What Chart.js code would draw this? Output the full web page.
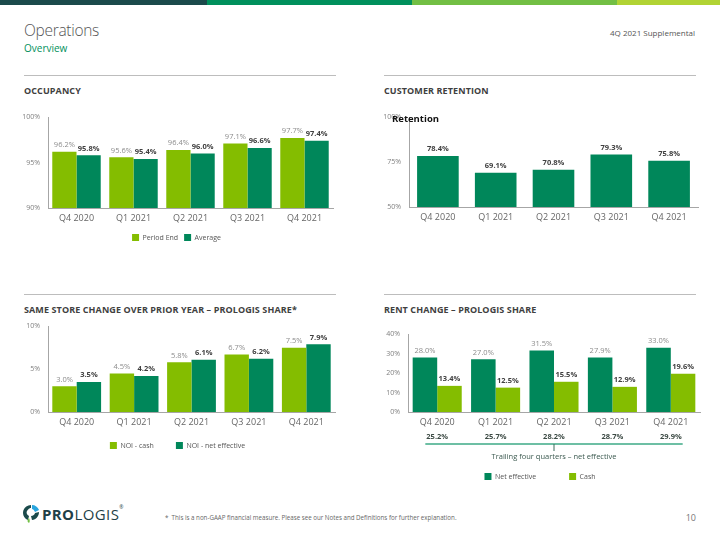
<!DOCTYPE html>
<html>
<head>
<meta charset="utf-8">
<script src="https://cdn.jsdelivr.net/npm/chart.js@4.4.1/dist/chart.umd.min.js"></script>
<style>
  body { margin: 0; width: 720px; height: 540px; background: #fff; position: relative; overflow: hidden; font-family: "Open Sans", sans-serif; }
  .bar { position: absolute; top: 0; height: 5px; }
  .abs { position: absolute; white-space: nowrap; }
  .rule { position: absolute; height: 1px; background: #bdbdbd; }
  .sec { position: absolute; font-size: 9px; font-weight: 700; color: #404040; letter-spacing: 0.1px; }
  canvas { position: absolute; }
</style>
</head>
<body>
<div class="bar" style="left:0;width:207px;background:#1b4a4b"></div>
<div class="bar" style="left:207px;width:205px;background:#00905c"></div>
<div class="bar" style="left:412px;width:205px;background:#72bf44"></div>
<div class="bar" style="left:617px;width:103px;background:#b1d334"></div>

<div class="abs" style="left:24px;top:19px;font-size:15.5px;font-weight:300;color:#555;letter-spacing:-0.3px">Operations</div>
<div class="abs" style="left:24px;top:41px;font-size:10px;color:#00905c">Overview</div>
<div class="abs" style="right:25px;top:27px;font-size:8px;color:#555">4Q 2021 Supplemental</div>

<div class="rule" style="left:24px;top:75px;width:312px"></div>
<div class="rule" style="left:384px;top:75px;width:312px"></div>
<div class="rule" style="left:24px;top:294px;width:312px"></div>
<div class="rule" style="left:384px;top:294px;width:312px"></div>

<div class="sec" style="left:24px;top:84px">OCCUPANCY</div>
<div class="sec" style="left:384px;top:84px">CUSTOMER RETENTION</div>
<div class="sec" style="left:24px;top:303px">SAME STORE CHANGE OVER PRIOR YEAR – PROLOGIS SHARE*</div>
<div class="sec" style="left:384px;top:303px">RENT CHANGE – PROLOGIS SHARE</div>

<canvas id="occ" width="320" height="146" style="left:20px;top:105px"></canvas>
<canvas id="ret" width="320" height="121" style="left:381px;top:105px"></canvas>
<canvas id="ss" width="320" height="145" style="left:20px;top:314px"></canvas>
<canvas id="rent" width="325" height="170" style="left:380px;top:320px"></canvas>

<div class="abs" style="left:392px;top:112px;font-size:9.5px;font-weight:700;color:#111">Retention</div>

<svg class="abs" style="left:22px;top:504px" width="18" height="20" viewBox="0 0 18 20">
  <path d="M9 1 C4 1 1 5 1 9 C1 12 3 15 6 16 L7 12 C5 11 4 9 5 7 C6 5 8 4 9 4 Z" fill="#1b4a4b"/>
  <path d="M10 1 C13 1 16 3 17 6 L13 8 C12 6 11 5 10 5 Z" fill="#2aa6df"/>
  <path d="M17 8 C17 12 14 16 10 16 L9 12 C11 12 13 10 13 9 Z" fill="#1b4a4b"/>
  <path d="M7 14 C8 16 8 18 7 19 C5 18 5 16 7 14 Z" fill="#72bf44"/>
</svg>
<div class="abs" style="left:42px;top:504px;font-size:15px;color:#1f3f47;letter-spacing:0.4px"><b>PRO</b>LOGIS<span style="font-size:5px;vertical-align:top">®</span></div>
<div class="abs" style="left:165px;top:513px;font-size:6.2px;color:#666">*&nbsp; This is a non-GAAP financial measure. Please see our Notes and Definitions for further explanation.</div>
<div class="abs" style="right:24px;top:511px;font-size:9px;color:#777">10</div>

<script>
const categories = ['Q4 2020', 'Q1 2021', 'Q2 2021', 'Q3 2021', 'Q4 2021']

const occPeriodEnd = [96.2, 95.6, 96.4, 97.1, 97.7]
const occAverage = [95.8, 95.4, 96.0, 96.6, 97.4]

const retention = [78.4, 69.1, 70.8, 79.3, 75.8]

const noiCash = [3.0, 4.5, 5.8, 6.7, 7.5]
const noiNetEffective = [3.5, 4.2, 6.1, 6.2, 7.9]

const rentNetEffective = [28.0, 27.0, 31.5, 27.9, 33.0]
const rentCash = [13.4, 12.5, 15.5, 12.9, 19.6]
const trailingNetEffective = [25.2, 25.7, 28.2, 28.7, 29.9]

const LIGHT = '#84bd00'
const DARK = '#00875a'
const FONT = '"Open Sans", sans-serif'

Chart.defaults.font.family = FONT
Chart.defaults.animation = false

// value above each bar
const valueLabels = {
    id: 'valueLabels',
    afterDatasetsDraw(chart) {
        const ctx = chart.ctx
        chart.data.datasets.forEach((ds, i) => {
            const meta = chart.getDatasetMeta(i)
            ctx.save()
            ctx.font = (ds.labelBold ? 'bold ' : '') + '7.5px ' + FONT
            ctx.fillStyle = ds.labelBold ? '#404040' : '#8c8c8c'
            ctx.textAlign = 'center'
            ctx.textBaseline = 'bottom'
            meta.data.forEach((bar, j) => {
                ctx.fillText(ds.data[j].toFixed(1) + '%', bar.x, bar.y - 3)
            })
            ctx.restore()
        })
    }
}

// trailing four quarters row under the rent change chart
const trailingRow = {
    id: 'trailingRow',
    afterDraw(chart) {
        const ctx = chart.ctx
        const x = chart.scales.x
        const y0 = chart.chartArea.bottom + 25
        ctx.save()
        ctx.font = 'bold 7.5px ' + FONT
        ctx.fillStyle = '#3c4a44'
        ctx.textAlign = 'center'
        ctx.textBaseline = 'middle'
        let left, right
        trailingNetEffective.forEach((v, i) => {
            const t = v.toFixed(1) + '%'
            const px = x.getPixelForValue(i)
            const w = ctx.measureText(t).width
            ctx.fillText(t, px, y0)
            if (i == 0) left = px - w / 2 - 1
            if (i == trailingNetEffective.length - 1) right = px + w / 2 + 1
        })
        const lineY = y0 + 7
        ctx.strokeStyle = '#6dbfa4'
        ctx.lineWidth = 2
        ctx.beginPath()
        ctx.moveTo(left, lineY)
        ctx.lineTo(right, lineY)
        ctx.stroke()
        const mid = x.getPixelForValue(2)
        ctx.lineWidth = 1
        ctx.strokeStyle = '#3c6a5a'
        ctx.beginPath()
        ctx.moveTo(mid, lineY)
        ctx.lineTo(mid, lineY + 7)
        ctx.stroke()
        ctx.font = '7.5px ' + FONT
        ctx.fillStyle = '#3c5a50'
        ctx.fillText('Trailing four quarters – net effective', mid, lineY + 13)
        ctx.restore()
    }
}

function makeScales(min, max, step, xHeight) {
    return {
        x: {
            grid: { display: false, drawTicks: false },
            border: { color: '#a6a6a6' },
            ticks: { color: '#666', font: { size: 9 }, padding: 5 },
            afterFit: s => { s.height = xHeight }
        },
        y: {
            min, max,
            grid: { display: false, drawTicks: false },
            border: { color: '#a6a6a6' },
            ticks: { stepSize: step, color: '#808080', font: { size: 7 }, padding: 8, callback: v => v + '%' },
            afterFit: s => { s.width = 28 }
        }
    }
}

// extraGap: spaces added after the first item so items sit further apart
function makeLegend(gap, display = true, extraGap = '') {
    return {
        display,
        position: 'bottom',
        labels: {
            boxWidth: 7, boxHeight: 7, padding: gap, color: '#555', font: { size: 7 },
            generateLabels: chart => Chart.defaults.plugins.legend.labels.generateLabels(chart)
                .map((l, i, arr) => i < arr.length - 1 ? { ...l, text: l.text + extraGap } : l)
        }
    }
}

new Chart(document.getElementById('occ'), {
    type: 'bar',
    data: {
        labels: categories,
        datasets: [
            { label: 'Period End', data: occPeriodEnd, backgroundColor: LIGHT, labelBold: false },
            { label: 'Average', data: occAverage, backgroundColor: DARK, labelBold: true }
        ]
    },
    options: {
        responsive: false,
        categoryPercentage: 0.85,
        barPercentage: 1,
        layout: { padding: { top: 12, right: 7 } },
        scales: makeScales(90, 100, 5, 20),
        plugins: { legend: makeLegend(6), tooltip: { enabled: false } }
    },
    plugins: [valueLabels]
})

new Chart(document.getElementById('ret'), {
    type: 'bar',
    data: {
        labels: categories,
        datasets: [
            { label: 'Retention', data: retention, backgroundColor: DARK, labelBold: true }
        ]
    },
    options: {
        responsive: false,
        categoryPercentage: 0.72,
        barPercentage: 1,
        layout: { padding: { top: 12, right: 3 } },
        scales: makeScales(50, 100, 25, 19),
        plugins: { legend: makeLegend(6, false), tooltip: { enabled: false } }
    },
    plugins: [valueLabels]
})

new Chart(document.getElementById('ss'), {
    type: 'bar',
    data: {
        labels: categories,
        datasets: [
            { label: 'NOI - cash', data: noiCash, backgroundColor: LIGHT, labelBold: false },
            { label: 'NOI - net effective', data: noiNetEffective, backgroundColor: DARK, labelBold: true }
        ]
    },
    options: {
        responsive: false,
        categoryPercentage: 0.85,
        barPercentage: 1,
        layout: { padding: { top: 12, right: 5 } },
        scales: makeScales(0, 10, 5, 17),
        plugins: { legend: makeLegend(13, true, '\u00a0\u00a0\u00a0\u00a0\u00a0'), tooltip: { enabled: false } }
    },
    plugins: [valueLabels]
})

new Chart(document.getElementById('rent'), {
    type: 'bar',
    data: {
        labels: categories,
        datasets: [
            { label: 'Net effective', data: rentNetEffective, backgroundColor: DARK, labelBold: false },
            { label: 'Cash', data: rentCash, backgroundColor: LIGHT, labelBold: true }
        ]
    },
    options: {
        responsive: false,
        categoryPercentage: 0.84,
        barPercentage: 1,
        layout: { padding: { top: 14, right: 5 } },
        scales: makeScales(0, 40, 10, 28),
        plugins: { legend: makeLegend(33), tooltip: { enabled: false } }
    },
    plugins: [valueLabels, trailingRow]
})
</script>
</body>
</html>
